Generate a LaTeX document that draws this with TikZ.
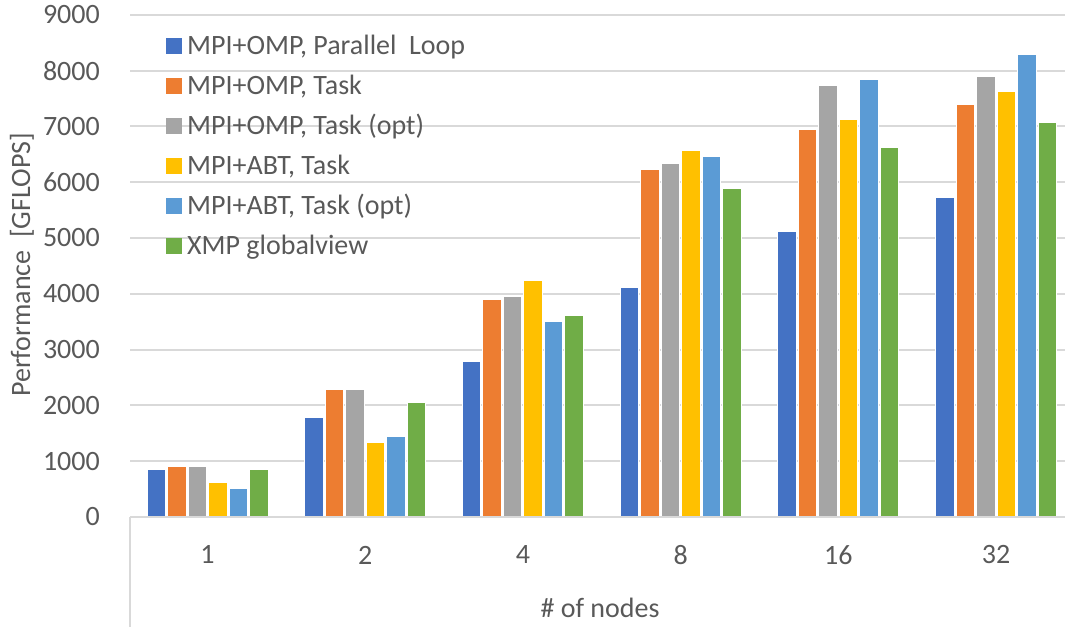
\documentclass[tikz,border=0pt]{standalone}
\usepackage{fontspec}
\setmainfont{Carlito}
\usetikzlibrary{positioning}

\definecolor{gridgray}{HTML}{D9D9D9}
\definecolor{txtgray}{HTML}{595959}
\definecolor{ser0}{HTML}{4472C4}
\definecolor{ser1}{HTML}{ED7D31}
\definecolor{ser2}{HTML}{A5A5A5}
\definecolor{ser3}{HTML}{FFC000}
\definecolor{ser4}{HTML}{5B9BD5}
\definecolor{ser5}{HTML}{70AD47}

\tikzset{
  lbl/.style={text=txtgray, font=\fontsize{28}{32}\selectfont, inner sep=0pt},
  gridline/.style={draw=gridgray, line width=2pt},
  bar/.style={draw=white, line width=1pt},
  keybox/.style={rectangle, minimum size=16pt, inner sep=0pt},
}

\begin{document}
\begin{tikzpicture}[x=1pt, y=55.8pt]
  \useasboundingbox (0,-1.9713) rectangle (1065,9.2652);

  % value axis: grid and labels
  \foreach \k in {0,...,9} {
    \draw[gridline] (130,\k) -- (1068,\k);
    \pgfmathtruncatemacro{\t}{\k*1000}
    \node[lbl, anchor=east] (ytick\k) at (100,\k) {\t};
  }
  \node[lbl, rotate=90] (ytitle) at (22,4.52) {Performance~~[GFLOPS]};

  % bars, one group per node count
  \foreach \n/\vals [count=\i from 0] in {
      1/{0.85,0.90,0.90,0.62,0.51,0.85},
      2/{1.78,2.28,2.28,1.34,1.45,2.06},
      4/{2.78,3.90,3.95,4.23,3.51,3.61},
      8/{4.12,6.23,6.34,6.56,6.46,5.89},
      16/{5.12,6.95,7.74,7.13,7.84,6.63},
      32/{5.73,7.40,7.90,7.62,8.29,7.07}} {
    \pgfmathsetmacro{\cx}{207.5+157.7*\i}
    \foreach \v [count=\j from 0] in \vals
      \draw[bar, fill=ser\j] (\cx-61.5+20.5*\j+1,0) rectangle ++(18.5,\v);
    \node[lbl] (cat\i) at (\cx,-0.68) {\n};
  }

  % category axis
  \draw[gridline] (130,0) -- (1068,0);
  \draw[gridline] (130,0) -- (130,-2);
  \node[lbl] (xtitle) at (600,-1.63) {\# of nodes};

  % legend
  \foreach \s [count=\k from 0] in {{MPI+OMP, Parallel~~Loop}, {MPI+OMP, Task},
      {MPI+OMP, Task (opt)}, {MPI+ABT, Task}, {MPI+ABT, Task (opt)}, {XMP globalview}} {
    \node[keybox, fill=ser\k] (key\k) at (174,{(471-40*\k)/55.8}) {};
    \node[lbl, anchor=base west] (leg\k) at (187,{(462-40*\k)/55.8}) {\s};
  }
\end{tikzpicture}
\end{document}
